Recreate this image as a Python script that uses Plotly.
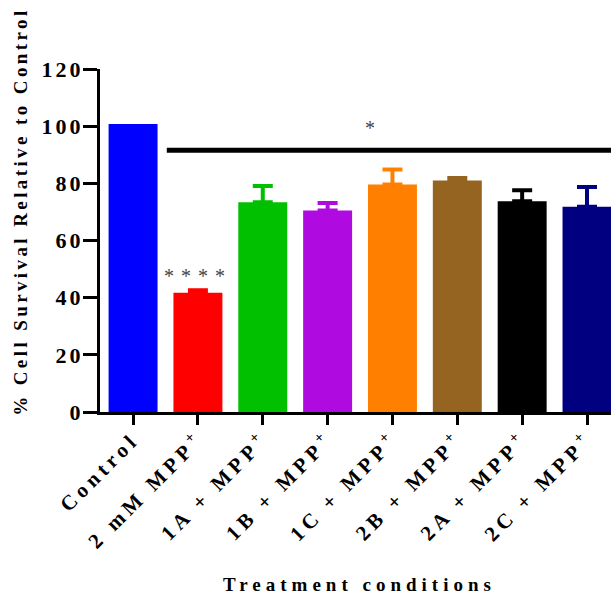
import plotly.graph_objects as go

categories = ["Control", "2 mM MPP<sup>+</sup>", "1A + MPP<sup>+</sup>", "1B + MPP<sup>+</sup>",
              "1C + MPP<sup>+</sup>", "2B + MPP<sup>+</sup>", "2A + MPP<sup>+</sup>", "2C + MPP<sup>+</sup>"]
survival = [100.8, 41.7, 73.4, 70.5, 79.6, 81.0, 73.7, 71.8]
sem = [0.0, 0.9, 5.7, 2.6, 5.2, 0.9, 3.9, 6.9]
colors = ["#0000FF", "#FF0000", "#00C000", "#AF0ADF", "#FF8000", "#946420", "#000000", "#000080"]
y_ticks = [0, 20, 40, 60, 80, 100, 120]
sig_line = {"x0": 0.52, "x1": 7.6, "y": 91.6}
sig_star = {"x": 3.65, "y": 99.3, "text": "*"}
mpp_star = {"x": 1, "y": 47.6, "text": "****"}
x_title = "Treatment conditions"
y_title = "% Cell Survival Relative to Control"

FONT = "Liberation Serif"

def spaced(t, ls):
    return f"<span style='letter-spacing:{ls}px'>{t}</span>"

fig = go.Figure()
for i, cat in enumerate(categories):
    fig.add_trace(go.Bar(
        x=[i], y=[survival[i]], width=0.755,
        marker=dict(color=colors[i], line=dict(width=0)),
        error_y=dict(type="data", array=[sem[i]], arrayminus=[0], symmetric=False,
                     color=colors[i], thickness=4, width=10, visible=sem[i] > 0),
        showlegend=False, hoverinfo="skip",
    ))

fig.add_shape(type="line", xref="x", yref="y", x0=sig_line["x0"], x1=sig_line["x1"],
              y0=sig_line["y"], y1=sig_line["y"], line=dict(color="black", width=5))
fig.add_annotation(x=sig_star["x"], y=sig_star["y"], text=sig_star["text"], showarrow=False,
                   font=dict(family=FONT, size=20, color="#444"))
fig.add_annotation(x=mpp_star["x"], y=mpp_star["y"], text=spaced(mpp_star["text"], 7), showarrow=False,
                   font=dict(family=FONT, size=20, color="#444"))

# axis titles
fig.add_annotation(xref="paper", yref="paper", x=0.508, y=-0.504, xanchor="center", yanchor="middle",
                   text=spaced(f"<b>{x_title}</b>", 5), showarrow=False,
                   font=dict(family=FONT, size=19, color="black"))
fig.add_annotation(xref="paper", yref="paper", x=-0.157, y=0.583, xanchor="center", yanchor="middle",
                   textangle=-90, text=spaced(f"<b>{y_title}</b>", 3.4), showarrow=False,
                   font=dict(family=FONT, size=19, color="black"))

fig.update_layout(
    width=611, height=597,
    margin=dict(l=100, r=0, t=69, b=185),
    plot_bgcolor="white", paper_bgcolor="white",
    barmode="overlay",
    font=dict(family=FONT, color="black"),
    xaxis=dict(
        tickmode="array", tickvals=list(range(len(categories))),
        ticktext=[spaced(f"<b>{c}</b>", 4.6) for c in categories],
        tickangle=-45, tickfont=dict(family=FONT, size=21, color="black"),
        range=[-0.51, 7.37], showline=True, linecolor="black", linewidth=3,
        ticks="outside", ticklen=10, tickwidth=3, tickcolor="black",
        ticklabelstandoff=-6,
        showgrid=False, zeroline=False,
    ),
    yaxis=dict(
        tickmode="array", tickvals=y_ticks,
        ticktext=[spaced(f"<b>{v}</b>", 3) for v in y_ticks],
        tickfont=dict(family=FONT, size=22, color="black"),
        range=[0, 120], showline=True, linecolor="black", linewidth=3,
        ticks="outside", ticklen=14, tickwidth=3, tickcolor="black",
        ticklabelstandoff=-5,
        showgrid=False, zeroline=False,
    ),
)

fig.write_html(
    "out.html",
    config={"displayModeBar": False, "staticPlot": True},
    post_script=("document.documentElement.style.overflow='hidden';"
                 "document.body.style.margin='0';document.body.style.overflow='hidden';"),
)
